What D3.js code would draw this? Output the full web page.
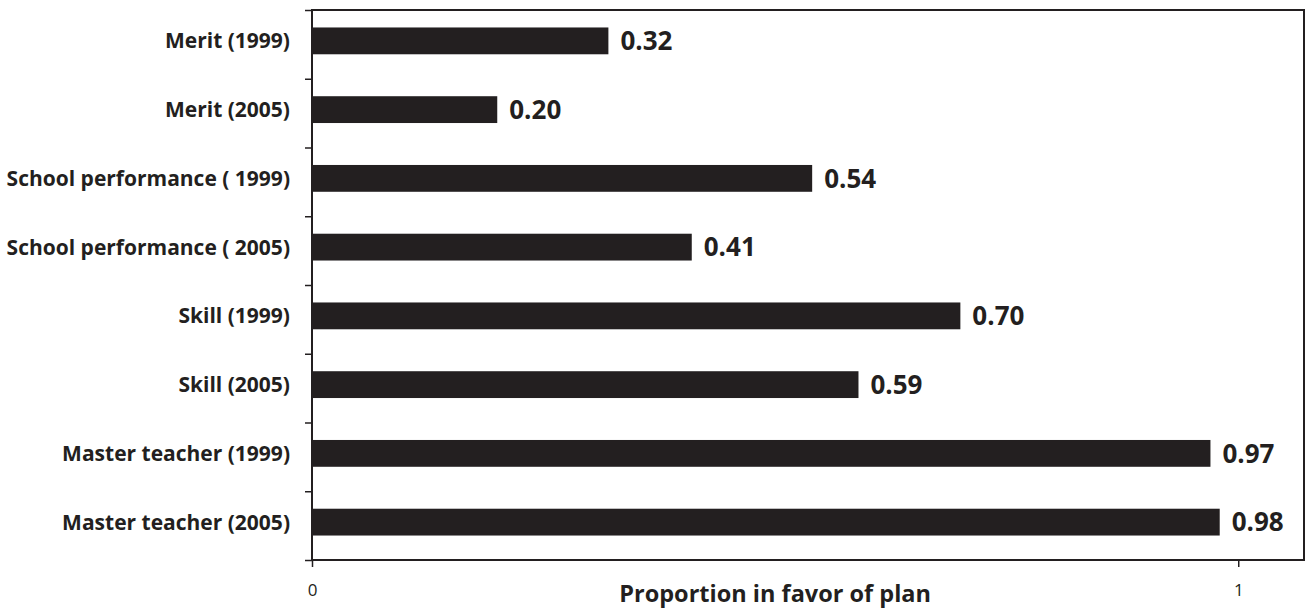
<!DOCTYPE html>
<html>
<head>
<meta charset="utf-8">
<script src="https://cdn.jsdelivr.net/npm/d3@7"></script>
<style>
  body { margin: 0; background: #fff; }
  text { font-family: "Open Sans", "Noto Sans", sans-serif; fill: #231f20; }
</style>
</head>
<body>
<script>
// chart data
var categories = [
    "Merit (1999)",
    "Merit (2005)",
    "School performance ( 1999)",
    "School performance ( 2005)",
    "Skill (1999)",
    "Skill (2005)",
    "Master teacher (1999)",
    "Master teacher (2005)"
];
var values = [0.32, 0.20, 0.54, 0.41, 0.70, 0.59, 0.97, 0.98];
var xTickValues = [0, 1];
var xTitle = "Proportion in favor of plan";

// sizes
var svg_width = 1307;
var svg_height = 610;
var margin = { top: 10, right: 3, bottom: 50, left: 312 };
var ink = "#231f20";

const svg = d3.select('body')
    .append('svg')
    .attr("width", svg_width)
    .attr("height", svg_height);

const plotW = svg_width - margin.left - margin.right;
const plotH = svg_height - margin.top - margin.bottom;

const g = svg.append('g')
    .attr('transform', `translate(${margin.left},${margin.top})`);

// x scale: 0..1 with room on the right
const x = d3.scaleLinear().domain([0, 1.071]).range([0, plotW]);

// band scale for the bars (bars sit a little above band centre)
const y = d3.scaleBand().domain(categories).range([0, plotH])
    .paddingInner(0.61).paddingOuter(0.305);
const barShift = -3.5;

// boundary ticks on the left side
const yEdge = d3.scaleLinear().domain([0, categories.length]).range([0, plotH]);

// left ticks between categories
g.append('g')
    .call(d3.axisLeft(yEdge).tickValues(d3.range(categories.length + 1)).tickSize(7).tickFormat(''))
    .call(a => a.select('.domain').remove())
    .call(a => a.selectAll('line').attr('stroke', ink).attr('stroke-width', 1.5));

// bottom axis with 0 and 1
g.append('g')
    .attr('transform', `translate(0,${plotH})`)
    .call(d3.axisBottom(x).tickValues(xTickValues).tickSize(7).tickPadding(17).tickFormat(d3.format('d')))
    .call(a => a.select('.domain').remove())
    .call(a => a.selectAll('line').attr('stroke', ink).attr('stroke-width', 1.5))
    .call(a => a.selectAll('text')
        .style('font-family', '"Open Sans", sans-serif')
        .style('font-size', '17px')
        .attr('fill', ink));

// bars
g.selectAll('.bar')
    .data(values)
    .enter()
    .append('rect')
    .attr('class', 'bar')
    .attr('x', 0)
    .attr('y', (d, i) => y(categories[i]) + barShift)
    .attr('width', d => x(d))
    .attr('height', y.bandwidth())
    .attr('fill', ink);

// value labels
g.selectAll('.val')
    .data(values)
    .enter()
    .append('text')
    .attr('class', 'val')
    .attr('x', d => x(d) + 12)
    .attr('y', (d, i) => y(categories[i]) + barShift + y.bandwidth() / 2)
    .attr('dy', '0.36em')
    .style('font-size', '26px')
    .style('font-weight', 'bold')
    .text(d => d.toFixed(2));

// category labels
g.selectAll('.cat')
    .data(categories)
    .enter()
    .append('text')
    .attr('class', 'cat')
    .attr('x', -22)
    .attr('y', d => y(d) + barShift + y.bandwidth() / 2)
    .attr('dy', '0.36em')
    .attr('text-anchor', 'end')
    .style('font-size', '21px')
    .style('font-weight', 'bold')
    .text(d => d);

// frame around the plot
g.append('rect')
    .attr('x', 0)
    .attr('y', 0)
    .attr('width', plotW)
    .attr('height', plotH)
    .attr('fill', 'none')
    .attr('stroke', ink)
    .attr('stroke-width', 2);

// axis title, centred on 0.5
g.append('text')
    .attr('x', x(0.5))
    .attr('y', plotH + 42)
    .attr('text-anchor', 'middle')
    .style('font-size', '23.5px')
    .style('font-weight', 'bold')
    .text(xTitle);
</script>
</body>
</html>
